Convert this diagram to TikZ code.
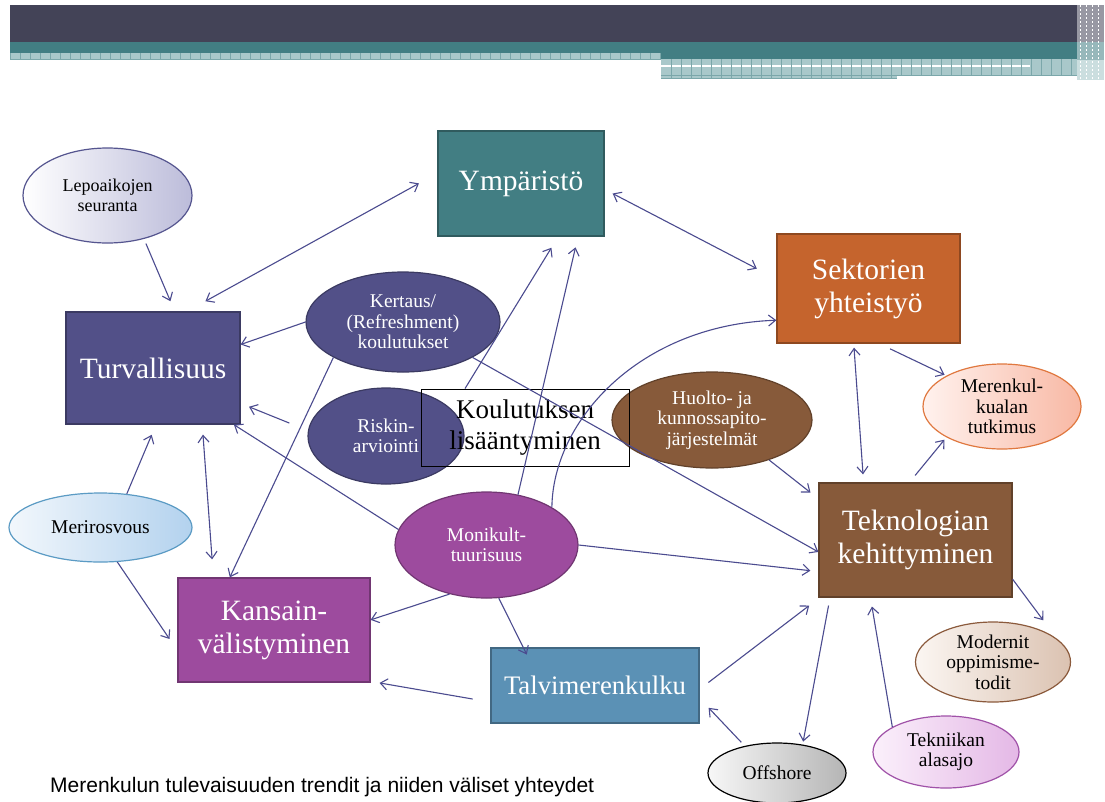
\documentclass[tikz,border=0pt]{standalone}
\usepackage{fontspec}
\setmainfont{Liberation Serif}
\newfontfamily\capfont{Liberation Sans}
\usetikzlibrary{arrows.meta,shapes.geometric}
\definecolor{hdark}{HTML}{434357}
\definecolor{hteal}{HTML}{427E83}
\definecolor{hpat}{HTML}{A9C8CA}
\definecolor{hgrid}{HTML}{7BA7AA}
\definecolor{linec}{HTML}{4B4B8F}
\definecolor{cturv}{HTML}{525088}
\definecolor{ckans}{HTML}{9D4B9E}
\definecolor{ctalvi}{HTML}{5B91B5}
\definecolor{ctekn}{HTML}{875A3A}
\definecolor{csekt}{HTML}{C5642D}
\definecolor{cymp}{HTML}{427E83}
\definecolor{lepoR}{HTML}{BCBCDA}
\definecolor{lepoB}{HTML}{55558F}
\definecolor{merenL}{HTML}{FFF2EE}
\definecolor{merenR}{HTML}{F8B8A4}
\definecolor{merenB}{HTML}{E0783F}
\definecolor{meriL}{HTML}{F2F7FC}
\definecolor{meriR}{HTML}{B3D2EE}
\definecolor{meriB}{HTML}{5B9BC4}
\definecolor{modL}{HTML}{FBF6F2}
\definecolor{modR}{HTML}{DBC2B1}
\definecolor{modB}{HTML}{8B5A3C}
\definecolor{tekniL}{HTML}{FBF0FB}
\definecolor{tekniR}{HTML}{E4B8E6}
\definecolor{tekniB}{HTML}{A052A8}
\definecolor{offL}{HTML}{F7F7F7}
\definecolor{offR}{HTML}{B5B5B5}
\newcommand\fBig{\fontsize{29.5}{33}\selectfont}
\newcommand\fKoul{\fontsize{27}{31.5}\selectfont}
\newcommand\fTalvi{\fontsize{26.7}{30}\selectfont}
\newcommand\fEll{\fontsize{19.5}{20.5}\selectfont}
\newcommand\fFoot{\fontsize{21}{24}\selectfont}
\tikzset{
  tip/.tip={Straight Barb[length=7pt,width=11pt]},
  conn/.style={draw=linec, line width=1.1pt, -tip},
  bi/.style={draw=linec, line width=1.1pt, tip-tip},
  box/.style={rectangle, draw=#1!72!black, fill=#1, line width=1.3pt, text=white,
    font=\fBig, align=center, inner sep=0pt},
  ell/.style={ellipse, inner sep=0pt, line width=1.2pt},
  darkell/.style={ell, fill=#1, draw=#1!72!black},
  etext/.style={align=center, font=\fEll, inner sep=0pt},
}
\begin{document}
\begin{tikzpicture}[x=1pt,y=-1pt]
\useasboundingbox (0,0) rectangle (1105,801);
\fill[white] (0,0) rectangle (1105,801);
% header
\fill[hdark] (10,5) rectangle (1077,42);
\fill[hteal] (10,42) rectangle (1077,53);
\fill[hteal] (661,53) rectangle (1077,59);
\fill[hpat] (10,53) rectangle (661,60);
\fill[hpat] (661,59) rectangle (1077,76);
\fill[hpat] (661,76) rectangle (897,79);
\fill[white] (661,65) rectangle (1030,67);
\foreach \x in {10,20,...,660} \draw[hgrid, line width=0.6pt] (\x,53) -- (\x,60);
\foreach \x in {671,681,...,1071} \draw[hgrid, line width=0.6pt] (\x,59) -- (\x,76);
\foreach \x in {671,681,...,891} \draw[hgrid, line width=0.6pt] (\x,76) -- (\x,79);
\draw[hgrid, line width=0.8pt] (10,59.5) -- (661,59.5);
\draw[hgrid, line width=0.8pt] (661,75.5) -- (1077,75.5);
\draw[hgrid, line width=0.8pt] (661,78.5) -- (897,78.5);
\fill[hdark!55!white] (1077,5) rectangle (1104,42);
\fill[hteal!55!white] (1077,42) rectangle (1104,60);
\fill[hpat!60!white] (1077,60) rectangle (1104,80);
\foreach \x in {1080,1086,...,1102} \draw[white, line width=1pt, dash pattern=on 2pt off 2pt] (\x,5) -- (\x,80);

% boxes
\node[box=cymp, minimum width=166pt, minimum height=105pt] (ymp) at (521,183.5) {Ympäristö};
\node[box=csekt, minimum width=183pt, minimum height=109pt] (sekt) at (868.5,288.5) {Sektorien\\yhteistyö};
\node[box=cturv, minimum width=174pt, minimum height=112pt] (turv) at (153,368) {Turvallisuus};
\node[box=ctekn, minimum width=193pt, minimum height=114pt] (tekn) at (915.5,540) {Teknologian\\kehittyminen};
\node[box=ckans, minimum width=192pt, minimum height=104pt] (kans) at (274,630) {Kansain-\\välistyminen};
\node[box=ctalvi, minimum width=208pt, minimum height=75pt, font=\fTalvi] (talvi) at (595,685.5) {Talvimerenkulku};

% ellipses
\node[darkell=cturv, minimum width=194pt, minimum height=100pt] (kert) at (403,322) {};
\node[etext, text=white] (kert-t) at (kert) {Kertaus/\\(Refreshment)\\koulutukset};
\node[darkell=cturv, minimum width=156pt, minimum height=96pt] (risk) at (386,436) {};
\node[etext, text=white] (risk-t) at (risk) {Riskin-\\arviointi};
\node[darkell=ctekn, minimum width=200pt, minimum height=96pt] (huolto) at (712,420) {};
\node[etext, text=white] (huolto-t) at (huolto) {Huolto- ja\\kunnossapito-\\järjestelmät};
\node[darkell=ckans, minimum width=183pt, minimum height=106pt] (moni) at (486.5,545) {};
\node[etext, text=white] (moni-t) at (moni) {Monikult-\\tuurisuus};
\node[ell, left color=white, right color=lepoR, draw=lepoB, minimum width=169pt, minimum height=95pt] (lepo) at (107.5,195.5) {};
\node[etext, font=\fontsize{18}{19.5}\selectfont] (lepo-t) at (lepo) {Lepoaikojen\\seuranta};
\node[ell, left color=meriL, right color=meriR, draw=meriB, minimum width=183pt, minimum height=69pt] (meri) at (100.5,527.5) {};
\node[etext] (meri-t) at (meri) {Merirosvous};
\node[ell, left color=merenL, right color=merenR, draw=merenB, minimum width=158pt, minimum height=85pt] (meren) at (1002,406.5) {};
\node[etext] (meren-t) at (meren) {Merenkul-\\kualan\\tutkimus};
\node[ell, left color=modL, right color=modR, draw=modB, minimum width=155pt, minimum height=80pt] (mod) at (993,662) {};
\node[etext] (mod-t) at (mod) {Modernit\\oppimisme-\\todit};
\node[ell, left color=tekniL, right color=tekniR, draw=tekniB, minimum width=146pt, minimum height=72pt] (tekni) at (946,752) {};
\node[etext] (tekni-t) at (tekni) {Tekniikan\\alasajo};
\node[ell, left color=offL, right color=offR, draw=black, minimum width=138pt, minimum height=60pt] (off) at (777,773) {};
\node[etext] (off-t) at (off) {Offshore};

% unfilled title box
\node[draw=black, line width=0.9pt, minimum width=208pt, minimum height=77pt, font=\fKoul, align=center, inner sep=0pt] (koul) at (525,427.5) {Koulutuksen\\lisääntyminen};

% connectors
\draw[bi, shorten <=21pt, shorten >=21pt] (turv.59) -- (ymp.173);
\draw[conn, shorten <=5pt, shorten >=11pt] (lepo.-50) -- (turv.69);
\draw[conn] (kert.180) -- (turv.15);
\draw[conn] (kert.-153) -- (kans.130);
\draw[conn, shorten <=20pt, shorten >=9pt] (risk.176) -- (turv.-22);
\draw[conn] (moni.170) -- (turv.-35);
\draw[conn, shorten >=11pt] (meri.52) -- (turv.-87);
\draw[bi, shorten <=10pt, shorten >=18pt] (turv.-49) -- (kans.139);
\draw[conn, shorten >=14pt] (meri.-64) -- (kans.-168);
\draw[conn] (moni.-127) -- (kans.6);
\draw[conn, shorten >=-8pt] (moni.-77) -- (talvi.152);
\draw[conn, shorten <=18pt, shorten >=9pt] (talvi.-171) -- (kans.-28);
\draw[conn] (kert.-27) -- (tekn.-173);
\draw[conn, shorten >=8pt] (moni.0) -- (tekn.-162);
\draw[conn, shorten >=13pt] (koul.147) -- (ymp.-55);
\draw[conn, shorten >=11pt] (moni.58) -- (ymp.-43);
\draw[conn] (moni.30) .. controls (553,420) and (640,325) .. (sekt.-161);
\draw[bi, shorten <=9pt, shorten >=22pt] (ymp.-4) -- (sekt.174);
\draw[bi, shorten <=4pt, shorten >=8pt] (sekt.-105) -- (tekn.132);
\draw[conn, shorten <=12pt, shorten >=2pt] (sekt.-79) -- (meren.151);
\draw[conn, shorten <=9pt, shorten >=3pt] (tekn.96) -- (meren.-151);
\draw[conn, shorten >=10pt] (huolto.-35) -- (tekn.157);
\draw[conn, shorten >=23pt] (tekn.-22) -- (mod.20);
\draw[conn, shorten <=11pt, shorten >=13pt] (talvi.-2) -- (tekn.-149);
\draw[conn, shorten <=8pt, shorten >=3pt] (tekn.-146) -- (off.48);
\draw[conn, shorten >=9pt] (tekni.155) -- (tekn.-128);
\draw[conn, shorten <=5pt, shorten >=13pt] (off.140) -- (talvi.-7);

% caption
\node[anchor=base west, font=\capfont\fFoot, inner sep=0pt] (cap) at (50,792) {Merenkulun tulevaisuuden trendit ja niiden väliset yhteydet};
\end{tikzpicture}
\end{document}
